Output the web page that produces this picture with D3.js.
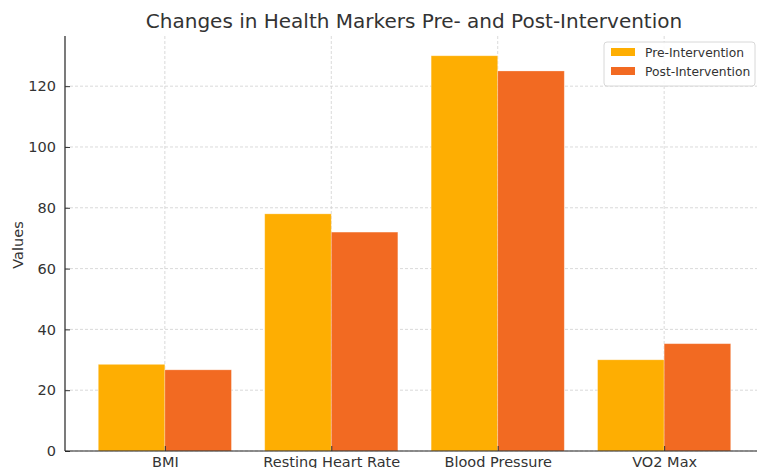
<!DOCTYPE html>
<html>
<head>
<meta charset="utf-8">
<script src="https://cdn.jsdelivr.net/npm/d3@7"></script>
<style>
  body { margin: 0; background: #fff; }
  text { font-family: "DejaVu Sans", sans-serif; fill: #333; }
</style>
</head>
<body>
<script>
// Chart data
var categories = ["BMI", "Resting Heart Rate", "Blood Pressure", "VO2 Max"];
var preValues = [28.5, 78, 130, 30];
var postValues = [26.7, 72, 125, 35.3];
var seriesNames = ["Pre-Intervention", "Post-Intervention"];
var seriesColors = ["#feae02", "#f26a22"];
var yTicks = [0, 20, 40, 60, 80, 100, 120];

var w = 757, h = 468;
var marginLeft = 65, plotTop = 36, plotBottom = 451;

var svg = d3.select("body").append("svg")
    .attr("width", w)
    .attr("height", h);

// x position in category units, matplotlib style (-0.6 .. 3.6)
var x = d3.scaleLinear()
    .domain([-0.6, 3.6])
    .range([marginLeft, 764]);

var y = d3.scaleLinear()
    .domain([0, 136.5])
    .range([plotBottom, plotTop]);

var barW = 0.4;

// Grid lines
svg.append("g").selectAll("line")
    .data(yTicks)
    .enter().append("line")
    .attr("x1", marginLeft).attr("x2", w)
    .attr("y1", function(d){ return y(d); })
    .attr("y2", function(d){ return y(d); })
    .style("stroke", "#d0d0d0")
    .style("stroke-dasharray", "3,2")
    .style("stroke-width", 0.8);

svg.append("g").selectAll("line")
    .data(categories)
    .enter().append("line")
    .attr("x1", function(d, i){ return x(i); })
    .attr("x2", function(d, i){ return x(i); })
    .attr("y1", plotTop).attr("y2", plotBottom)
    .style("stroke", "#d0d0d0")
    .style("stroke-dasharray", "3,2")
    .style("stroke-width", 0.8);

// Bars
var series = [preValues, postValues];
series.forEach(function(vals, s){
    svg.append("g").selectAll("rect")
        .data(vals)
        .enter().append("rect")
        .attr("x", function(d, i){ return x(i - barW + s * barW); })
        .attr("width", x(barW) - x(0))
        .attr("y", function(d){ return y(d); })
        .attr("height", function(d){ return plotBottom - y(d); })
        .style("fill", seriesColors[s])
        .style("stroke", "rgba(255,255,255,0.35)")
        .style("stroke-width", 0.8);
});

// Axes
var yAxis = d3.axisLeft(y).tickValues(yTicks).tickSizeInner(-5).tickSizeOuter(0).tickPadding(9);
svg.append("g")
    .attr("transform", "translate(" + marginLeft + ",0)")
    .call(yAxis)
    .call(function(g){
        g.select(".domain").attr("d", "M0," + plotTop + "V" + plotBottom).style("stroke", "#222").style("stroke-width", 1.2);
        g.selectAll("text").style("font-size", "14.5px").style("font-family", "DejaVu Sans").style("fill", "#333");
        g.selectAll(".tick line").style("stroke", "#333");
    });

var xAxis = d3.axisBottom(x).tickValues(d3.range(categories.length))
    .tickFormat(function(d){ return categories[d]; })
    .tickSizeInner(-5).tickSizeOuter(0).tickPadding(6);
svg.append("g")
    .attr("transform", "translate(0," + plotBottom + ")")
    .call(xAxis)
    .call(function(g){
        g.select(".domain").attr("d", "M" + marginLeft + ",0H" + w).style("stroke", "#222").style("stroke-width", 1.2);
        g.selectAll("text").style("font-size", "14.5px").style("font-family", "DejaVu Sans").style("fill", "#333");
        g.selectAll(".tick line").style("stroke", "#333");
    });

// Title
svg.append("text")
    .attr("x", 414)
    .attr("y", 28)
    .attr("text-anchor", "middle")
    .style("font-size", "20px")
    .text("Changes in Health Markers Pre- and Post-Intervention");

// Y label
svg.append("text")
    .attr("transform", "translate(23,245) rotate(-90)")
    .attr("text-anchor", "middle")
    .style("font-size", "14.5px")
    .text("Values");

// Legend
var legend = svg.append("g").attr("transform", "translate(604,42)");
legend.append("rect")
    .attr("width", 151).attr("height", 44).attr("rx", 3)
    .style("fill", "rgba(255,255,255,0.85)")
    .style("stroke", "#d8d8d8");
seriesNames.forEach(function(name, i){
    legend.append("rect")
        .attr("x", 7).attr("y", 6 + i * 19)
        .attr("width", 24).attr("height", 8)
        .style("fill", seriesColors[i]);
    legend.append("text")
        .attr("x", 41).attr("y", 15 + i * 19)
        .style("font-size", "12.3px")
        .text(name);
});
</script>
</body>
</html>
